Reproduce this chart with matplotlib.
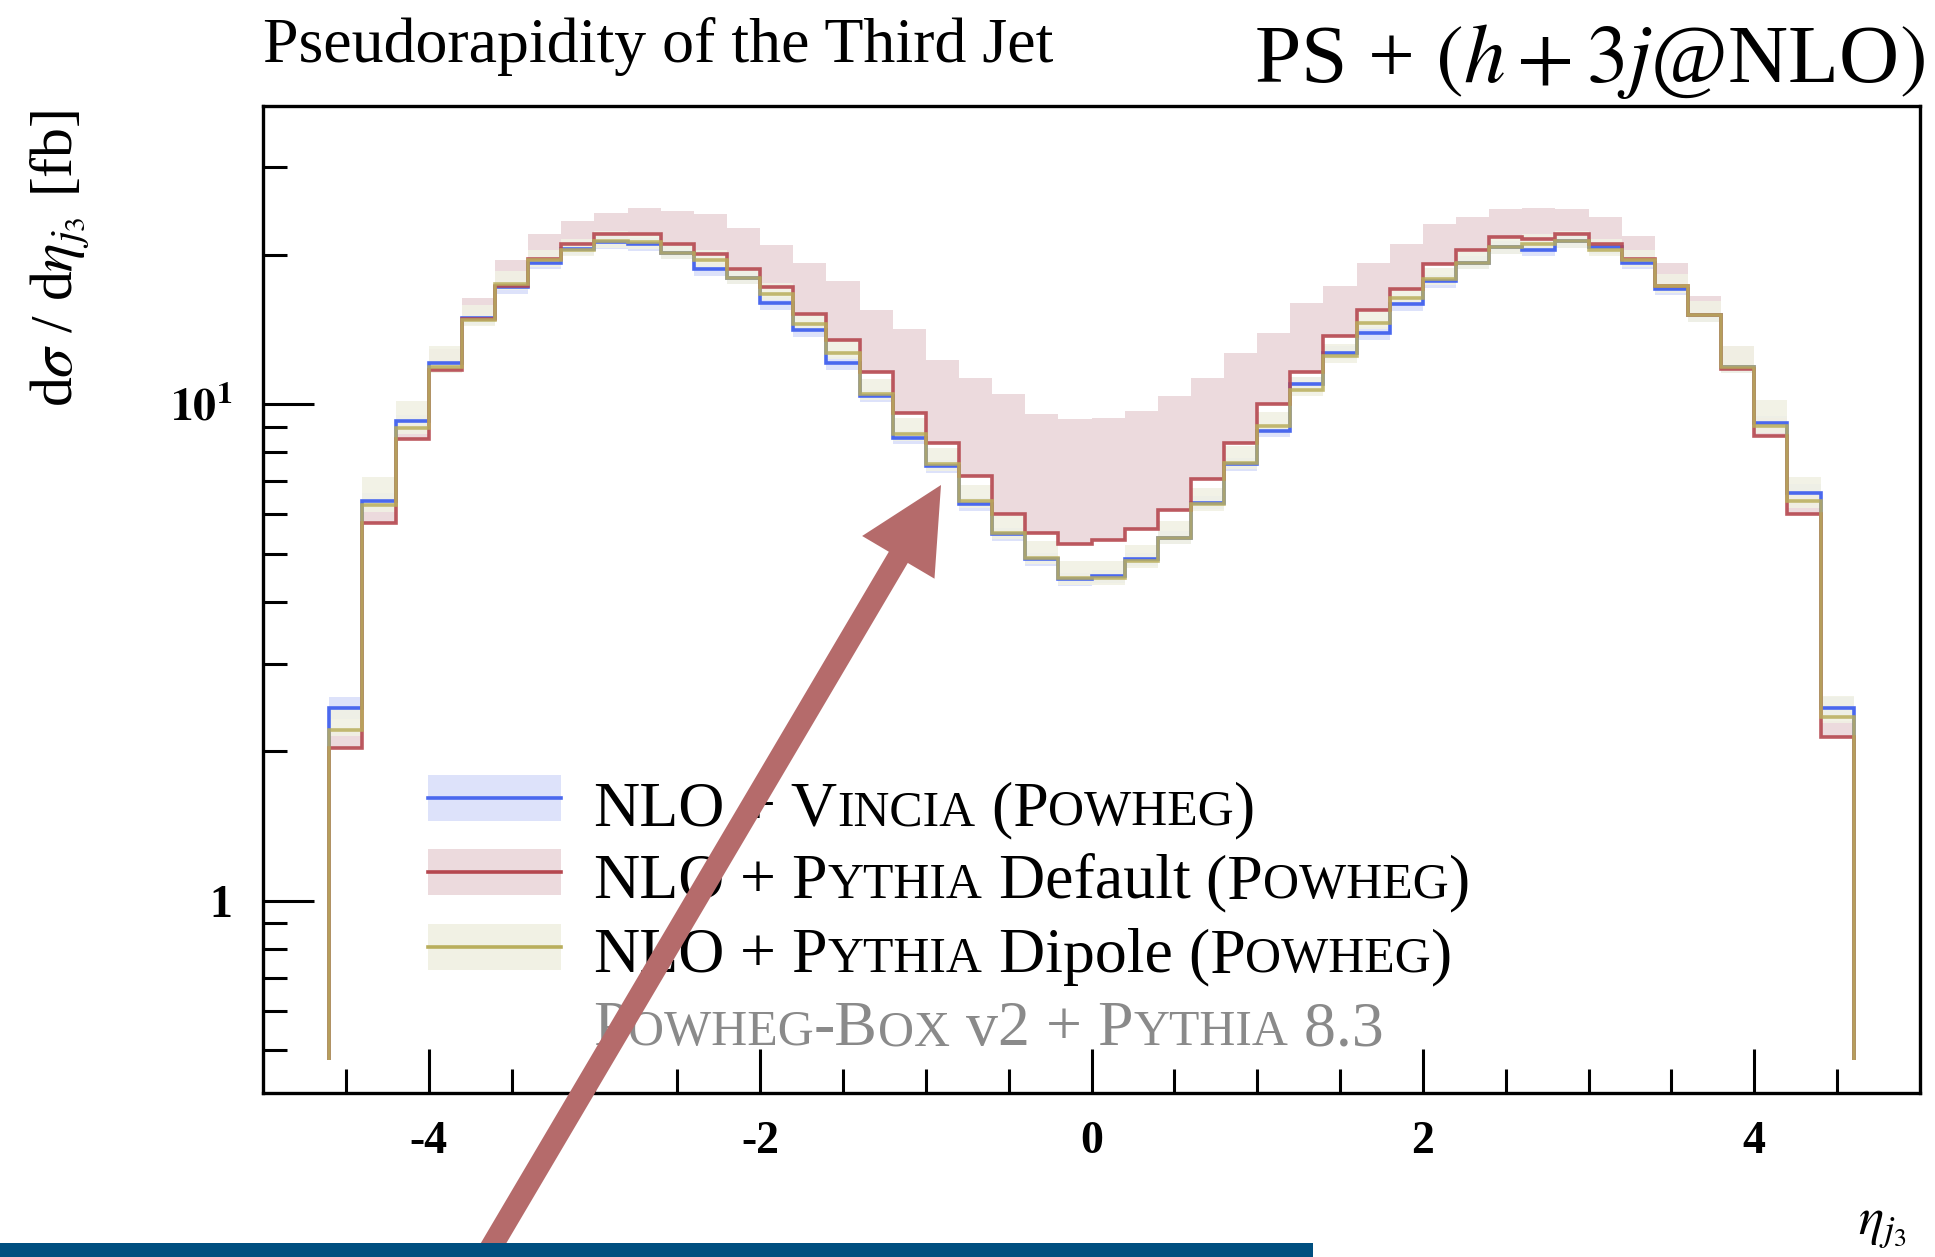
import numpy as np
import matplotlib
matplotlib.use("Agg")
import matplotlib.pyplot as plt
import matplotlib.patches as mpatches
from matplotlib.lines import Line2D
from matplotlib.ticker import LogLocator, NullFormatter
from matplotlib.transforms import IdentityTransform

plt.rcParams['font.family'] = ['Liberation Serif', 'DejaVu Serif']
plt.rcParams['mathtext.fontset'] = 'stix'
plt.rcParams['axes.unicode_minus'] = False

W, H = 1935, 1257

# bin edges of the eta_j3 histogram (46 bins of 0.2)
edges = np.round(np.linspace(-4.6, 4.6, 47), 1)

vincia = [2.45, 6.38, 9.25, 12.1, 14.9, 17.2, 19.3, 20.6, 21.2, 21.0, 20.2, 18.7,
          18.0, 16.0, 14.1, 12.1, 10.4, 8.57, 7.5, 6.29, 5.47, 4.87, 4.44, 4.51,
          4.87, 5.39, 6.34, 7.57, 8.84, 11.0, 12.7, 13.9, 15.9, 17.7, 19.3, 20.7,
          20.5, 21.3, 20.7, 19.3, 17.1, 15.1, 11.9, 9.19, 6.64, 2.45]
vincia_err = [0.05, 0.04, 0.03, 0.03, 0.03, 0.03, 0.03, 0.03, 0.03, 0.03, 0.03, 0.03,
              0.03, 0.03, 0.03, 0.03, 0.03, 0.03, 0.03, 0.03, 0.03, 0.03, 0.03, 0.03,
              0.03, 0.03, 0.03, 0.03, 0.03, 0.03, 0.03, 0.03, 0.03, 0.03, 0.03, 0.03,
              0.03, 0.03, 0.03, 0.03, 0.03, 0.03, 0.03, 0.03, 0.04, 0.05]

default = [2.03, 5.77, 8.50, 11.7, 14.85, 17.3, 19.6, 21.0, 22.0, 22.0, 21.0, 20.1,
           18.7, 17.2, 15.2, 13.5, 11.6, 9.62, 8.37, 7.17, 6.00, 5.51, 5.22, 5.34,
           5.60, 6.14, 7.06, 8.37, 10.0, 11.6, 13.7, 15.5, 17.1, 19.2, 20.5, 21.7,
           21.5, 22.0, 21.0, 19.6, 17.3, 15.1, 11.8, 8.63, 6.00, 2.14]
default_hi = [2.2, 6.2, 9.1, 12.9, 16.4, 19.5, 22.0, 23.4, 24.3, 24.9, 24.5, 24.2,
              22.7, 20.9, 19.3, 17.7, 15.5, 14.2, 12.3, 11.3, 10.5, 9.55, 9.33, 9.40,
              9.70, 10.4, 11.3, 12.7, 13.9, 16.0, 17.3, 19.3, 21.0, 23.1, 23.8, 24.7,
              24.9, 24.7, 23.8, 21.8, 19.3, 16.5, 13.1, 9.4, 6.6, 2.3]

dipole = [2.21, 6.26, 8.97, 11.9, 14.8, 17.5, 19.5, 20.5, 21.3, 21.2, 20.2, 19.5,
          18.0, 16.7, 14.5, 12.7, 10.5, 8.70, 7.57, 6.38, 5.51, 4.91, 4.47, 4.47,
          4.83, 5.39, 6.29, 7.63, 9.04, 10.7, 12.5, 14.6, 16.4, 17.9, 19.3, 20.7,
          21.0, 21.3, 20.5, 19.5, 17.3, 15.1, 11.9, 9.04, 6.38, 2.35]
dipole_err_up = [0.10, 0.14, 0.13, 0.10, 0.07, 0.06, 0.05, 0.05, 0.05, 0.05, 0.05, 0.05,
                 0.05, 0.05, 0.06, 0.06, 0.07, 0.08, 0.08, 0.08, 0.08, 0.08, 0.08, 0.08,
                 0.08, 0.08, 0.08, 0.08, 0.07, 0.06, 0.06, 0.05, 0.05, 0.05, 0.05, 0.05,
                 0.05, 0.05, 0.05, 0.05, 0.06, 0.07, 0.10, 0.13, 0.12, 0.10]
dipole_err_dn = 0.03

c_blue, c_blue_band = '#4a68ee', '#dde2fa'
c_red, c_red_band = '#b5474f', '#ecdadd'
c_oli, c_oli_band = '#b9ae5c', '#f1f1e4'
floor = 0.478


def P(x, y):
    return x / W, 1 - y / H


fig = plt.figure(figsize=(W / 100, H / 100), dpi=100)
ax = fig.add_axes([263 / W, 1 - 1093 / H, (1920 - 263) / W, (1093 - 106) / H])

v = np.array(vincia)
d = np.array(default)
o = np.array(dipole)
ax.stairs(v * (1 + np.array(vincia_err)), edges, baseline=v * (1 - np.array(vincia_err)),
          fill=True, color=c_blue_band, lw=0)
ax.stairs(default_hi, edges, baseline=d, fill=True, color=c_red_band, lw=0)
ax.stairs(o * (1 + np.array(dipole_err_up)), edges, baseline=o * (1 - dipole_err_dn),
          fill=True, color=c_oli_band, lw=0, alpha=0.9)
ax.stairs(v, edges, baseline=floor, color=c_blue, lw=2.6)
ax.stairs(d, edges, baseline=floor, color=c_red, lw=2.6, alpha=0.9)
ax.stairs(o, edges, baseline=floor, color=c_oli, lw=2.6, alpha=0.85)

ax.set_yscale('log')
ax.set_xlim(-5, 5)
ax.set_ylim(0.41, 39.9)
for s in ax.spines.values():
    s.set_linewidth(2.4)

ax.set_xticks([-4, -2, 0, 2, 4], ['-4', '-2', '0', '2', '4'])
ax.set_xticks(np.arange(-4.5, 5, 0.5), minor=True)
ax.set_yticks([1, 10], ['1', r'$\mathbf{10^{1}}$'])
ax.yaxis.set_minor_locator(LogLocator(base=10, subs=np.arange(2, 10)))
ax.yaxis.set_minor_formatter(NullFormatter())
ax.tick_params(which='both', direction='in', top=False, right=False, width=2.2)
ax.tick_params(axis='x', which='major', length=32, pad=20, labelsize=33)
ax.tick_params(axis='x', which='minor', length=17)
ax.tick_params(axis='y', which='major', length=37, pad=22, labelsize=33)
ax.tick_params(axis='y', which='minor', length=17)
for lab in ax.get_xticklabels() + ax.get_yticklabels():
    lab.set_fontweight('bold')

# titles and axis labels
fig.text(*P(263, 62), 'Pseudorapidity of the Third Jet', fontsize=46, va='baseline', ha='left')
fig.text(*P(1925, 82), r'PS + $(h + 3j$@NLO$)$', fontsize=60, va='baseline', ha='right')
fig.text(*P(60, 110), r'd$\sigma$ / d$\eta_{j_3}$ [fb]', fontsize=43, rotation=90,
         ha='center', va='top')
fig.text(*P(1882, 1226), r'$\eta_{j_3}$', fontsize=38, ha='center', va='center')


# legend with small caps
def smallcaps(x, y, parts, size, color):
    prev = ax.annotate(parts[0][0], xy=(x, H - y), xycoords='figure pixels',
                       fontsize=size, color=color, va='baseline', ha='left',
                       annotation_clip=False)
    for txt, small in parts[1:]:
        prev = ax.annotate(txt, xy=(1, H - y), xycoords=(prev, 'figure pixels'),
                           fontsize=size * (0.78 if small else 1), color=color,
                           va='baseline', ha='left', annotation_clip=False)


rows = [
    (c_blue, c_blue_band, 798, 825,
     [('NLO', 0), (' +', 0), (' V', 0), ('INCIA', 1), (' (P', 0), ('OWHEG', 1), (')', 0)]),
    (c_red, c_red_band, 872, 898,
     [('NLO', 0), (' +', 0), (' P', 0), ('YTHIA', 1), (' Default', 0), (' (P', 0), ('OWHEG', 1), (')', 0)]),
    (c_oli, c_oli_band, 947, 972,
     [('NLO', 0), (' +', 0), (' P', 0), ('YTHIA', 1), (' Dipole', 0), (' (P', 0), ('OWHEG', 1), (')', 0)]),
]
for lc, bc, ly, base, parts in rows:
    x0, y0 = P(428, ly + 23)
    fig.add_artist(mpatches.Rectangle((x0, y0), 133 / W, 46 / H, color=bc, lw=0,
                                      transform=fig.transFigure))
    fig.add_artist(Line2D([428 / W, 561 / W], [1 - ly / H] * 2, color=lc, lw=2.6,
                          transform=fig.transFigure))
    smallcaps(593, base, parts, 46, 'black')

smallcaps(593, 1045, [('P', 0), ('OWHEG', 1), ('-B', 0), ('OX', 1), (' v2', 0), (' +', 0),
                      (' P', 0), ('YTHIA', 1), (' 8.3', 0)], 46, '#8a8a8a')

# annotation arrow and bottom bar (pixel positions)
arrow = mpatches.FancyArrow(460, H - 1300, 941 - 460, (H - 485) - (H - 1300),
                            width=22, head_width=84, head_length=84,
                            length_includes_head=True, color='#b56b6b', lw=0,
                            transform=IdentityTransform())
fig.add_artist(arrow)
fig.add_artist(mpatches.Rectangle((0, 0), 1313 / W, 14 / H, color='#004f80', lw=0,
                                  transform=fig.transFigure, zorder=5))

fig.savefig('out.png', dpi=100)
